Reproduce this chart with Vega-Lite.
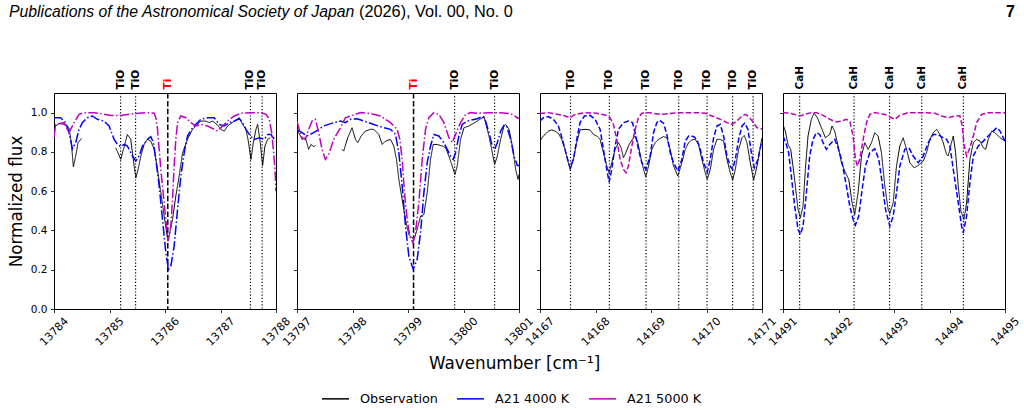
{
  "$schema": "https://vega.github.io/schema/vega-lite/v6.json",
  "background": "white",
  "padding": {"left": 7, "top": 4, "right": 2, "bottom": 2},
  "config": {
    "font": "DejaVu Sans",
    "view": {"stroke": "#000000", "strokeWidth": 1},
    "axis": {
      "grid": false, "domain": false,
      "tickColor": "#000000", "tickSize": 3.5, "tickWidth": 0.8,
      "labelColor": "#000000", "labelFontSize": 10.5,
      "titleColor": "#000000", "titleFontWeight": "normal"
    },
    "legend": {
      "labelFontSize": 12.8, "labelColor": "#000000", "symbolType": "stroke",
      "symbolSize": 729, "symbolStrokeWidth": 1.5, "labelOffset": 10, "columnPadding": 16
    }
  },
  "datasets": {
    "header": [
      {"part": "journal", "label": "Publications of the Astronomical Society of Japan"},
      {"part": "issue", "label": "(2026), Vol. 00, No. 0"},
      {"part": "page", "label": "7"}
    ],
    "features": [
      {"panel": 1, "species": "TiO", "wn": 13785.20},
      {"panel": 1, "species": "TiO", "wn": 13785.47},
      {"panel": 1, "species": "Ti", "wn": 13786.05},
      {"panel": 1, "species": "TiO", "wn": 13787.54},
      {"panel": 1, "species": "TiO", "wn": 13787.75},
      {"panel": 2, "species": "Ti", "wn": 13799.10},
      {"panel": 2, "species": "TiO", "wn": 13799.84},
      {"panel": 2, "species": "TiO", "wn": 13800.56},
      {"panel": 3, "species": "TiO", "wn": 14167.55},
      {"panel": 3, "species": "TiO", "wn": 14168.25},
      {"panel": 3, "species": "TiO", "wn": 14168.91},
      {"panel": 3, "species": "TiO", "wn": 14169.50},
      {"panel": 3, "species": "TiO", "wn": 14170.01},
      {"panel": 3, "species": "TiO", "wn": 14170.47},
      {"panel": 3, "species": "TiO", "wn": 14170.84},
      {"panel": 4, "species": "CaH", "wn": 14491.30},
      {"panel": 4, "species": "CaH", "wn": 14492.28},
      {"panel": 4, "species": "CaH", "wn": 14492.92},
      {"panel": 4, "species": "CaH", "wn": 14493.50},
      {"panel": 4, "species": "CaH", "wn": 14494.25}
    ],
    "spectra": [
      {"panel":1,"series":"Observation","wn":13784.00,"flux":0.910},
      {"panel":1,"series":"Observation","wn":13784.03,"flux":0.932},
      {"panel":1,"series":"Observation","wn":13784.09,"flux":0.944},
      {"panel":1,"series":"Observation","wn":13784.21,"flux":0.940},
      {"panel":1,"series":"Observation","wn":13784.27,"flux":0.923},
      {"panel":1,"series":"Observation","wn":13784.313,"flux":0.847},
      {"panel":1,"series":"Observation","wn":13784.349,"flux":0.724},
      {"panel":1,"series":"Observation","wn":13784.391,"flux":0.779},
      {"panel":1,"series":"Observation","wn":13784.433,"flux":0.847},
      {"panel":1,"series":"Observation","wn":13784.481,"flux":0.864},
      {"panel":1,"series":"Observation","wn":13784.50,"flux":0.867},
      {"panel":1,"series":"Observation","wn":13784.80,"flux":null},
      {"panel":1,"series":"Observation","wn":13785.113,"flux":0.821},
      {"panel":1,"series":"Observation","wn":13785.203,"flux":0.762},
      {"panel":1,"series":"Observation","wn":13785.275,"flux":0.838},
      {"panel":1,"series":"Observation","wn":13785.323,"flux":0.889},
      {"panel":1,"series":"Observation","wn":13785.383,"flux":0.864},
      {"panel":1,"series":"Observation","wn":13785.444,"flux":0.728},
      {"panel":1,"series":"Observation","wn":13785.474,"flux":0.668},
      {"panel":1,"series":"Observation","wn":13785.516,"flux":0.711},
      {"panel":1,"series":"Observation","wn":13785.564,"flux":0.779},
      {"panel":1,"series":"Observation","wn":13785.624,"flux":0.838},
      {"panel":1,"series":"Observation","wn":13785.684,"flux":0.864},
      {"panel":1,"series":"Observation","wn":13785.744,"flux":0.855},
      {"panel":1,"series":"Observation","wn":13785.805,"flux":0.813},
      {"panel":1,"series":"Observation","wn":13785.865,"flux":0.711},
      {"panel":1,"series":"Observation","wn":13785.925,"flux":0.592},
      {"panel":1,"series":"Observation","wn":13785.985,"flux":0.473},
      {"panel":1,"series":"Observation","wn":13786.045,"flux":0.362},
      {"panel":1,"series":"Observation","wn":13786.075,"flux":0.371},
      {"panel":1,"series":"Observation","wn":13786.135,"flux":0.456},
      {"panel":1,"series":"Observation","wn":13786.195,"flux":0.575},
      {"panel":1,"series":"Observation","wn":13786.256,"flux":0.677},
      {"panel":1,"series":"Observation","wn":13786.316,"flux":0.796},
      {"panel":1,"series":"Observation","wn":13786.406,"flux":0.864},
      {"panel":1,"series":"Observation","wn":13786.496,"flux":0.915},
      {"panel":1,"series":"Observation","wn":13786.646,"flux":0.957},
      {"panel":1,"series":"Observation","wn":13786.737,"flux":0.957},
      {"panel":1,"series":"Observation","wn":13786.797,"flux":0.949},
      {"panel":1,"series":"Observation","wn":13786.857,"flux":0.957},
      {"panel":1,"series":"Observation","wn":13786.935,"flux":0.940},
      {"panel":1,"series":"Observation","wn":13787.008,"flux":0.915},
      {"panel":1,"series":"Observation","wn":13787.068,"flux":0.906},
      {"panel":1,"series":"Observation","wn":13787.128,"flux":0.932},
      {"panel":1,"series":"Observation","wn":13787.248,"flux":0.957},
      {"panel":1,"series":"Observation","wn":13787.338,"flux":0.974},
      {"panel":1,"series":"Observation","wn":13787.398,"flux":0.940},
      {"panel":1,"series":"Observation","wn":13787.459,"flux":0.915},
      {"panel":1,"series":"Observation","wn":13787.501,"flux":0.855},
      {"panel":1,"series":"Observation","wn":13787.549,"flux":0.762},
      {"panel":1,"series":"Observation","wn":13787.591,"flux":0.847},
      {"panel":1,"series":"Observation","wn":13787.639,"flux":0.915},
      {"panel":1,"series":"Observation","wn":13787.669,"flux":0.940},
      {"panel":1,"series":"Observation","wn":13787.717,"flux":0.847},
      {"panel":1,"series":"Observation","wn":13787.759,"flux":0.731},
      {"panel":1,"series":"Observation","wn":13787.801,"flux":0.830},
      {"panel":1,"series":"Observation","wn":13787.849,"flux":0.864},
      {"panel":1,"series":"Observation","wn":13787.898,"flux":0.872},

      {"panel":1,"series":"A21 4000 K","wn":13784.00,"flux":0.974},
      {"panel":1,"series":"A21 4000 K","wn":13784.12,"flux":0.974},
      {"panel":1,"series":"A21 4000 K","wn":13784.21,"flux":0.949},
      {"panel":1,"series":"A21 4000 K","wn":13784.27,"flux":0.898},
      {"panel":1,"series":"A21 4000 K","wn":13784.331,"flux":0.816},
      {"panel":1,"series":"A21 4000 K","wn":13784.391,"flux":0.847},
      {"panel":1,"series":"A21 4000 K","wn":13784.451,"flux":0.915},
      {"panel":1,"series":"A21 4000 K","wn":13784.511,"flux":0.949},
      {"panel":1,"series":"A21 4000 K","wn":13784.601,"flux":0.974},
      {"panel":1,"series":"A21 4000 K","wn":13784.691,"flux":0.983},
      {"panel":1,"series":"A21 4000 K","wn":13784.782,"flux":0.966},
      {"panel":1,"series":"A21 4000 K","wn":13784.902,"flux":0.957},
      {"panel":1,"series":"A21 4000 K","wn":13784.992,"flux":0.932},
      {"panel":1,"series":"A21 4000 K","wn":13785.083,"flux":0.864},
      {"panel":1,"series":"A21 4000 K","wn":13785.143,"flux":0.838},
      {"panel":1,"series":"A21 4000 K","wn":13785.203,"flux":0.827},
      {"panel":1,"series":"A21 4000 K","wn":13785.263,"flux":0.838},
      {"panel":1,"series":"A21 4000 K","wn":13785.323,"flux":0.830},
      {"panel":1,"series":"A21 4000 K","wn":13785.413,"flux":0.779},
      {"panel":1,"series":"A21 4000 K","wn":13785.474,"flux":0.753},
      {"panel":1,"series":"A21 4000 K","wn":13785.534,"flux":0.779},
      {"panel":1,"series":"A21 4000 K","wn":13785.594,"flux":0.830},
      {"panel":1,"series":"A21 4000 K","wn":13785.684,"flux":0.864},
      {"panel":1,"series":"A21 4000 K","wn":13785.744,"flux":0.878},
      {"panel":1,"series":"A21 4000 K","wn":13785.792,"flux":0.847},
      {"panel":1,"series":"A21 4000 K","wn":13785.835,"flux":0.762},
      {"panel":1,"series":"A21 4000 K","wn":13785.895,"flux":0.626},
      {"panel":1,"series":"A21 4000 K","wn":13785.955,"flux":0.456},
      {"panel":1,"series":"A21 4000 K","wn":13786.015,"flux":0.286},
      {"panel":1,"series":"A21 4000 K","wn":13786.063,"flux":0.201},
      {"panel":1,"series":"A21 4000 K","wn":13786.105,"flux":0.218},
      {"panel":1,"series":"A21 4000 K","wn":13786.165,"flux":0.320},
      {"panel":1,"series":"A21 4000 K","wn":13786.226,"flux":0.507},
      {"panel":1,"series":"A21 4000 K","wn":13786.286,"flux":0.677},
      {"panel":1,"series":"A21 4000 K","wn":13786.346,"flux":0.796},
      {"panel":1,"series":"A21 4000 K","wn":13786.406,"flux":0.881},
      {"panel":1,"series":"A21 4000 K","wn":13786.496,"flux":0.923},
      {"panel":1,"series":"A21 4000 K","wn":13786.646,"flux":0.966},
      {"panel":1,"series":"A21 4000 K","wn":13786.767,"flux":0.974},
      {"panel":1,"series":"A21 4000 K","wn":13786.887,"flux":0.974},
      {"panel":1,"series":"A21 4000 K","wn":13786.977,"flux":0.940},
      {"panel":1,"series":"A21 4000 K","wn":13787.068,"flux":0.932},
      {"panel":1,"series":"A21 4000 K","wn":13787.158,"flux":0.949},
      {"panel":1,"series":"A21 4000 K","wn":13787.248,"flux":0.957},
      {"panel":1,"series":"A21 4000 K","wn":13787.338,"flux":0.969},
      {"panel":1,"series":"A21 4000 K","wn":13787.398,"flux":0.949},
      {"panel":1,"series":"A21 4000 K","wn":13787.459,"flux":0.915},
      {"panel":1,"series":"A21 4000 K","wn":13787.537,"flux":0.881},
      {"panel":1,"series":"A21 4000 K","wn":13787.609,"flux":0.864},
      {"panel":1,"series":"A21 4000 K","wn":13787.699,"flux":0.872},
      {"panel":1,"series":"A21 4000 K","wn":13787.789,"flux":0.864},
      {"panel":1,"series":"A21 4000 K","wn":13787.849,"flux":0.889},
      {"panel":1,"series":"A21 4000 K","wn":13787.910,"flux":0.889},
      {"panel":1,"series":"A21 4000 K","wn":13787.970,"flux":0.864},
      {"panel":1,"series":"A21 4000 K","wn":13788.00,"flux":0.855},

      {"panel":1,"series":"A21 5000 K","wn":13784.00,"flux":0.872},
      {"panel":1,"series":"A21 5000 K","wn":13784.03,"flux":0.940},
      {"panel":1,"series":"A21 5000 K","wn":13784.09,"flux":0.944},
      {"panel":1,"series":"A21 5000 K","wn":13784.18,"flux":0.949},
      {"panel":1,"series":"A21 5000 K","wn":13784.27,"flux":0.898},
      {"panel":1,"series":"A21 5000 K","wn":13784.361,"flux":0.949},
      {"panel":1,"series":"A21 5000 K","wn":13784.451,"flux":0.991},
      {"panel":1,"series":"A21 5000 K","wn":13784.541,"flux":1.000},
      {"panel":1,"series":"A21 5000 K","wn":13784.722,"flux":1.000},
      {"panel":1,"series":"A21 5000 K","wn":13784.842,"flux":0.995},
      {"panel":1,"series":"A21 5000 K","wn":13785.022,"flux":0.986},
      {"panel":1,"series":"A21 5000 K","wn":13785.203,"flux":0.986},
      {"panel":1,"series":"A21 5000 K","wn":13785.444,"flux":0.995},
      {"panel":1,"series":"A21 5000 K","wn":13785.684,"flux":1.000},
      {"panel":1,"series":"A21 5000 K","wn":13785.805,"flux":0.997},
      {"panel":1,"series":"A21 5000 K","wn":13785.835,"flux":0.974},
      {"panel":1,"series":"A21 5000 K","wn":13785.865,"flux":0.915},
      {"panel":1,"series":"A21 5000 K","wn":13785.895,"flux":0.813},
      {"panel":1,"series":"A21 5000 K","wn":13785.925,"flux":0.711},
      {"panel":1,"series":"A21 5000 K","wn":13785.966,"flux":0.592},
      {"panel":1,"series":"A21 5000 K","wn":13786.015,"flux":0.456},
      {"panel":1,"series":"A21 5000 K","wn":13786.056,"flux":0.345},
      {"panel":1,"series":"A21 5000 K","wn":13786.105,"flux":0.422},
      {"panel":1,"series":"A21 5000 K","wn":13786.135,"flux":0.558},
      {"panel":1,"series":"A21 5000 K","wn":13786.165,"flux":0.728},
      {"panel":1,"series":"A21 5000 K","wn":13786.195,"flux":0.864},
      {"panel":1,"series":"A21 5000 K","wn":13786.226,"flux":0.949},
      {"panel":1,"series":"A21 5000 K","wn":13786.286,"flux":0.983},
      {"panel":1,"series":"A21 5000 K","wn":13786.376,"flux":0.974},
      {"panel":1,"series":"A21 5000 K","wn":13786.466,"flux":0.949},
      {"panel":1,"series":"A21 5000 K","wn":13786.556,"flux":0.932},
      {"panel":1,"series":"A21 5000 K","wn":13786.646,"flux":0.940},
      {"panel":1,"series":"A21 5000 K","wn":13786.767,"flux":0.932},
      {"panel":1,"series":"A21 5000 K","wn":13786.887,"flux":0.915},
      {"panel":1,"series":"A21 5000 K","wn":13786.947,"flux":0.906},
      {"panel":1,"series":"A21 5000 K","wn":13787.038,"flux":0.932},
      {"panel":1,"series":"A21 5000 K","wn":13787.128,"flux":0.957},
      {"panel":1,"series":"A21 5000 K","wn":13787.248,"flux":0.983},
      {"panel":1,"series":"A21 5000 K","wn":13787.368,"flux":0.997},
      {"panel":1,"series":"A21 5000 K","wn":13787.549,"flux":1.000},
      {"panel":1,"series":"A21 5000 K","wn":13787.729,"flux":1.000},
      {"panel":1,"series":"A21 5000 K","wn":13787.820,"flux":0.991},
      {"panel":1,"series":"A21 5000 K","wn":13787.880,"flux":0.966},
      {"panel":1,"series":"A21 5000 K","wn":13787.922,"flux":0.898},
      {"panel":1,"series":"A21 5000 K","wn":13787.958,"flux":0.796},
      {"panel":1,"series":"A21 5000 K","wn":13787.982,"flux":0.711},
      {"panel":1,"series":"A21 5000 K","wn":13788.00,"flux":0.600},

      {"panel":2,"series":"Observation","wn":13797.00,"flux":0.915},
      {"panel":2,"series":"Observation","wn":13797.048,"flux":0.889},
      {"panel":2,"series":"Observation","wn":13797.090,"flux":0.864},
      {"panel":2,"series":"Observation","wn":13797.150,"flux":0.872},
      {"panel":2,"series":"Observation","wn":13797.211,"flux":0.813},
      {"panel":2,"series":"Observation","wn":13797.253,"flux":0.838},
      {"panel":2,"series":"Observation","wn":13797.301,"flux":0.827},
      {"panel":2,"series":"Observation","wn":13797.331,"flux":0.833},
      {"panel":2,"series":"Observation","wn":13797.55,"flux":null},
      {"panel":2,"series":"Observation","wn":13797.812,"flux":0.813},
      {"panel":2,"series":"Observation","wn":13797.842,"flux":0.804},
      {"panel":2,"series":"Observation","wn":13797.914,"flux":0.872},
      {"panel":2,"series":"Observation","wn":13797.992,"flux":0.923},
      {"panel":2,"series":"Observation","wn":13798.053,"flux":0.864},
      {"panel":2,"series":"Observation","wn":13798.095,"flux":0.847},
      {"panel":2,"series":"Observation","wn":13798.155,"flux":0.881},
      {"panel":2,"series":"Observation","wn":13798.233,"flux":0.906},
      {"panel":2,"series":"Observation","wn":13798.323,"flux":0.915},
      {"panel":2,"series":"Observation","wn":13798.383,"flux":0.915},
      {"panel":2,"series":"Observation","wn":13798.474,"flux":0.889},
      {"panel":2,"series":"Observation","wn":13798.534,"flux":0.838},
      {"panel":2,"series":"Observation","wn":13798.594,"flux":0.855},
      {"panel":2,"series":"Observation","wn":13798.684,"flux":0.864},
      {"panel":2,"series":"Observation","wn":13798.744,"flux":0.830},
      {"panel":2,"series":"Observation","wn":13798.792,"flux":0.762},
      {"panel":2,"series":"Observation","wn":13798.835,"flux":0.660},
      {"panel":2,"series":"Observation","wn":13798.895,"flux":0.558},
      {"panel":2,"series":"Observation","wn":13798.955,"flux":0.456},
      {"panel":2,"series":"Observation","wn":13799.015,"flux":0.379},
      {"panel":2,"series":"Observation","wn":13799.075,"flux":0.362},
      {"panel":2,"series":"Observation","wn":13799.117,"flux":0.362},
      {"panel":2,"series":"Observation","wn":13799.165,"flux":0.405},
      {"panel":2,"series":"Observation","wn":13799.226,"flux":0.473},
      {"panel":2,"series":"Observation","wn":13799.286,"flux":0.481},
      {"panel":2,"series":"Observation","wn":13799.346,"flux":0.592},
      {"panel":2,"series":"Observation","wn":13799.406,"flux":0.762},
      {"panel":2,"series":"Observation","wn":13799.454,"flux":0.838},
      {"panel":2,"series":"Observation","wn":13799.526,"flux":0.838},
      {"panel":2,"series":"Observation","wn":13799.617,"flux":0.830},
      {"panel":2,"series":"Observation","wn":13799.677,"flux":0.821},
      {"panel":2,"series":"Observation","wn":13799.737,"flux":0.779},
      {"panel":2,"series":"Observation","wn":13799.797,"flux":0.728},
      {"panel":2,"series":"Observation","wn":13799.845,"flux":0.685},
      {"panel":2,"series":"Observation","wn":13799.887,"flux":0.728},
      {"panel":2,"series":"Observation","wn":13799.947,"flux":0.864},
      {"panel":2,"series":"Observation","wn":13800.008,"flux":0.923},
      {"panel":2,"series":"Observation","wn":13800.098,"flux":0.932},
      {"panel":2,"series":"Observation","wn":13800.248,"flux":0.957},
      {"panel":2,"series":"Observation","wn":13800.338,"flux":0.974},
      {"panel":2,"series":"Observation","wn":13800.368,"flux":0.983},
      {"panel":2,"series":"Observation","wn":13800.398,"flux":0.949},
      {"panel":2,"series":"Observation","wn":13800.459,"flux":0.881},
      {"panel":2,"series":"Observation","wn":13800.519,"flux":0.796},
      {"panel":2,"series":"Observation","wn":13800.561,"flux":0.736},
      {"panel":2,"series":"Observation","wn":13800.609,"flux":0.779},
      {"panel":2,"series":"Observation","wn":13800.669,"flux":0.864},
      {"panel":2,"series":"Observation","wn":13800.729,"flux":0.932},
      {"panel":2,"series":"Observation","wn":13800.759,"flux":0.940},
      {"panel":2,"series":"Observation","wn":13800.820,"flux":0.915},
      {"panel":2,"series":"Observation","wn":13800.880,"flux":0.830},
      {"panel":2,"series":"Observation","wn":13800.940,"flux":0.711},
      {"panel":2,"series":"Observation","wn":13800.982,"flux":0.660},
      {"panel":2,"series":"Observation","wn":13801.00,"flux":0.685},

      {"panel":2,"series":"A21 4000 K","wn":13797.00,"flux":0.915},
      {"panel":2,"series":"A21 4000 K","wn":13797.090,"flux":0.898},
      {"panel":2,"series":"A21 4000 K","wn":13797.180,"flux":0.881},
      {"panel":2,"series":"A21 4000 K","wn":13797.301,"flux":0.898},
      {"panel":2,"series":"A21 4000 K","wn":13797.481,"flux":0.932},
      {"panel":2,"series":"A21 4000 K","wn":13797.662,"flux":0.949},
      {"panel":2,"series":"A21 4000 K","wn":13797.782,"flux":0.957},
      {"panel":2,"series":"A21 4000 K","wn":13797.872,"flux":0.949},
      {"panel":2,"series":"A21 4000 K","wn":13797.962,"flux":0.966},
      {"panel":2,"series":"A21 4000 K","wn":13798.083,"flux":0.969},
      {"panel":2,"series":"A21 4000 K","wn":13798.203,"flux":0.957},
      {"panel":2,"series":"A21 4000 K","wn":13798.383,"flux":0.940},
      {"panel":2,"series":"A21 4000 K","wn":13798.564,"flux":0.923},
      {"panel":2,"series":"A21 4000 K","wn":13798.684,"flux":0.915},
      {"panel":2,"series":"A21 4000 K","wn":13798.774,"flux":0.889},
      {"panel":2,"series":"A21 4000 K","wn":13798.835,"flux":0.796},
      {"panel":2,"series":"A21 4000 K","wn":13798.895,"flux":0.626},
      {"panel":2,"series":"A21 4000 K","wn":13798.955,"flux":0.422},
      {"panel":2,"series":"A21 4000 K","wn":13799.015,"flux":0.269},
      {"panel":2,"series":"A21 4000 K","wn":13799.093,"flux":0.204},
      {"panel":2,"series":"A21 4000 K","wn":13799.165,"flux":0.252},
      {"panel":2,"series":"A21 4000 K","wn":13799.226,"flux":0.388},
      {"panel":2,"series":"A21 4000 K","wn":13799.286,"flux":0.592},
      {"panel":2,"series":"A21 4000 K","wn":13799.346,"flux":0.745},
      {"panel":2,"series":"A21 4000 K","wn":13799.406,"flux":0.830},
      {"panel":2,"series":"A21 4000 K","wn":13799.466,"flux":0.889},
      {"panel":2,"series":"A21 4000 K","wn":13799.556,"flux":0.881},
      {"panel":2,"series":"A21 4000 K","wn":13799.647,"flux":0.847},
      {"panel":2,"series":"A21 4000 K","wn":13799.707,"flux":0.813},
      {"panel":2,"series":"A21 4000 K","wn":13799.767,"flux":0.779},
      {"panel":2,"series":"A21 4000 K","wn":13799.815,"flux":0.762},
      {"panel":2,"series":"A21 4000 K","wn":13799.857,"flux":0.796},
      {"panel":2,"series":"A21 4000 K","wn":13799.917,"flux":0.881},
      {"panel":2,"series":"A21 4000 K","wn":13799.977,"flux":0.940},
      {"panel":2,"series":"A21 4000 K","wn":13800.068,"flux":0.957},
      {"panel":2,"series":"A21 4000 K","wn":13800.248,"flux":0.969},
      {"panel":2,"series":"A21 4000 K","wn":13800.338,"flux":0.980},
      {"panel":2,"series":"A21 4000 K","wn":13800.398,"flux":0.957},
      {"panel":2,"series":"A21 4000 K","wn":13800.459,"flux":0.898},
      {"panel":2,"series":"A21 4000 K","wn":13800.519,"flux":0.830},
      {"panel":2,"series":"A21 4000 K","wn":13800.561,"flux":0.813},
      {"panel":2,"series":"A21 4000 K","wn":13800.609,"flux":0.847},
      {"panel":2,"series":"A21 4000 K","wn":13800.669,"flux":0.906},
      {"panel":2,"series":"A21 4000 K","wn":13800.729,"flux":0.935},
      {"panel":2,"series":"A21 4000 K","wn":13800.777,"flux":0.932},
      {"panel":2,"series":"A21 4000 K","wn":13800.850,"flux":0.864},
      {"panel":2,"series":"A21 4000 K","wn":13800.910,"flux":0.779},
      {"panel":2,"series":"A21 4000 K","wn":13800.970,"flux":0.731},
      {"panel":2,"series":"A21 4000 K","wn":13801.00,"flux":0.731},

      {"panel":2,"series":"A21 5000 K","wn":13797.00,"flux":0.957},
      {"panel":2,"series":"A21 5000 K","wn":13797.048,"flux":0.906},
      {"panel":2,"series":"A21 5000 K","wn":13797.090,"flux":0.872},
      {"panel":2,"series":"A21 5000 K","wn":13797.150,"flux":0.864},
      {"panel":2,"series":"A21 5000 K","wn":13797.211,"flux":0.915},
      {"panel":2,"series":"A21 5000 K","wn":13797.271,"flux":0.957},
      {"panel":2,"series":"A21 5000 K","wn":13797.331,"flux":0.966},
      {"panel":2,"series":"A21 5000 K","wn":13797.391,"flux":0.898},
      {"panel":2,"series":"A21 5000 K","wn":13797.451,"flux":0.813},
      {"panel":2,"series":"A21 5000 K","wn":13797.511,"flux":0.762},
      {"panel":2,"series":"A21 5000 K","wn":13797.571,"flux":0.787},
      {"panel":2,"series":"A21 5000 K","wn":13797.662,"flux":0.864},
      {"panel":2,"series":"A21 5000 K","wn":13797.782,"flux":0.923},
      {"panel":2,"series":"A21 5000 K","wn":13797.872,"flux":0.974},
      {"panel":2,"series":"A21 5000 K","wn":13797.962,"flux":0.983},
      {"panel":2,"series":"A21 5000 K","wn":13798.143,"flux":1.000},
      {"panel":2,"series":"A21 5000 K","wn":13798.323,"flux":0.995},
      {"panel":2,"series":"A21 5000 K","wn":13798.504,"flux":0.983},
      {"panel":2,"series":"A21 5000 K","wn":13798.684,"flux":0.949},
      {"panel":2,"series":"A21 5000 K","wn":13798.805,"flux":0.915},
      {"panel":2,"series":"A21 5000 K","wn":13798.853,"flux":0.864},
      {"panel":2,"series":"A21 5000 K","wn":13798.895,"flux":0.762},
      {"panel":2,"series":"A21 5000 K","wn":13798.937,"flux":0.592},
      {"panel":2,"series":"A21 5000 K","wn":13798.985,"flux":0.456},
      {"panel":2,"series":"A21 5000 K","wn":13799.033,"flux":0.371},
      {"panel":2,"series":"A21 5000 K","wn":13799.087,"flux":0.337},
      {"panel":2,"series":"A21 5000 K","wn":13799.135,"flux":0.388},
      {"panel":2,"series":"A21 5000 K","wn":13799.195,"flux":0.541},
      {"panel":2,"series":"A21 5000 K","wn":13799.256,"flux":0.762},
      {"panel":2,"series":"A21 5000 K","wn":13799.316,"flux":0.915},
      {"panel":2,"series":"A21 5000 K","wn":13799.376,"flux":0.974},
      {"panel":2,"series":"A21 5000 K","wn":13799.466,"flux":1.000},
      {"panel":2,"series":"A21 5000 K","wn":13799.556,"flux":0.991},
      {"panel":2,"series":"A21 5000 K","wn":13799.647,"flux":0.949},
      {"panel":2,"series":"A21 5000 K","wn":13799.737,"flux":0.872},
      {"panel":2,"series":"A21 5000 K","wn":13799.797,"flux":0.847},
      {"panel":2,"series":"A21 5000 K","wn":13799.857,"flux":0.889},
      {"panel":2,"series":"A21 5000 K","wn":13799.947,"flux":0.949},
      {"panel":2,"series":"A21 5000 K","wn":13800.038,"flux":0.991},
      {"panel":2,"series":"A21 5000 K","wn":13800.128,"flux":1.000},
      {"panel":2,"series":"A21 5000 K","wn":13800.248,"flux":0.997},
      {"panel":2,"series":"A21 5000 K","wn":13800.489,"flux":1.000},
      {"panel":2,"series":"A21 5000 K","wn":13800.669,"flux":1.000},
      {"panel":2,"series":"A21 5000 K","wn":13800.850,"flux":0.995},
      {"panel":2,"series":"A21 5000 K","wn":13800.970,"flux":0.974},
      {"panel":2,"series":"A21 5000 K","wn":13801.00,"flux":0.969},

      {"panel":3,"series":"Observation","wn":14167.00,"flux":0.855},
      {"panel":3,"series":"Observation","wn":14167.060,"flux":0.881},
      {"panel":3,"series":"Observation","wn":14167.150,"flux":0.906},
      {"panel":3,"series":"Observation","wn":14167.211,"flux":0.912},
      {"panel":3,"series":"Observation","wn":14167.271,"flux":0.906},
      {"panel":3,"series":"Observation","wn":14167.331,"flux":0.895},
      {"panel":3,"series":"Observation","wn":14167.391,"flux":0.864},
      {"panel":3,"series":"Observation","wn":14167.451,"flux":0.813},
      {"panel":3,"series":"Observation","wn":14167.511,"flux":0.745},
      {"panel":3,"series":"Observation","wn":14167.547,"flux":0.711},
      {"panel":3,"series":"Observation","wn":14167.602,"flux":0.762},
      {"panel":3,"series":"Observation","wn":14167.662,"flux":0.847},
      {"panel":3,"series":"Observation","wn":14167.722,"flux":0.912},
      {"panel":3,"series":"Observation","wn":14167.812,"flux":0.915},
      {"panel":3,"series":"Observation","wn":14167.902,"flux":0.912},
      {"panel":3,"series":"Observation","wn":14167.962,"flux":0.889},
      {"panel":3,"series":"Observation","wn":14168.023,"flux":0.881},
      {"panel":3,"series":"Observation","wn":14168.083,"flux":0.864},
      {"panel":3,"series":"Observation","wn":14168.143,"flux":0.796},
      {"panel":3,"series":"Observation","wn":14168.203,"flux":0.728},
      {"panel":3,"series":"Observation","wn":14168.245,"flux":0.694},
      {"panel":3,"series":"Observation","wn":14168.293,"flux":0.745},
      {"panel":3,"series":"Observation","wn":14168.353,"flux":0.813},
      {"panel":3,"series":"Observation","wn":14168.414,"flux":0.847},
      {"panel":3,"series":"Observation","wn":14168.462,"flux":0.821},
      {"panel":3,"series":"Observation","wn":14168.504,"flux":0.770},
      {"panel":3,"series":"Observation","wn":14168.546,"flux":0.796},
      {"panel":3,"series":"Observation","wn":14168.606,"flux":0.838},
      {"panel":3,"series":"Observation","wn":14168.684,"flux":0.872},
      {"panel":3,"series":"Observation","wn":14168.714,"flux":0.881},
      {"panel":3,"series":"Observation","wn":14168.762,"flux":0.847},
      {"panel":3,"series":"Observation","wn":14168.823,"flux":0.762},
      {"panel":3,"series":"Observation","wn":14168.865,"flux":0.711},
      {"panel":3,"series":"Observation","wn":14168.907,"flux":0.673},
      {"panel":3,"series":"Observation","wn":14168.955,"flux":0.728},
      {"panel":3,"series":"Observation","wn":14169.015,"flux":0.813},
      {"panel":3,"series":"Observation","wn":14169.075,"flux":0.847},
      {"panel":3,"series":"Observation","wn":14169.135,"flux":0.864},
      {"panel":3,"series":"Observation","wn":14169.226,"flux":0.878},
      {"panel":3,"series":"Observation","wn":14169.286,"flux":0.872},
      {"panel":3,"series":"Observation","wn":14169.346,"flux":0.813},
      {"panel":3,"series":"Observation","wn":14169.406,"flux":0.728},
      {"panel":3,"series":"Observation","wn":14169.484,"flux":0.677},
      {"panel":3,"series":"Observation","wn":14169.556,"flux":0.745},
      {"panel":3,"series":"Observation","wn":14169.617,"flux":0.813},
      {"panel":3,"series":"Observation","wn":14169.677,"flux":0.847},
      {"panel":3,"series":"Observation","wn":14169.737,"flux":0.861},
      {"panel":3,"series":"Observation","wn":14169.797,"flux":0.864},
      {"panel":3,"series":"Observation","wn":14169.857,"flux":0.838},
      {"panel":3,"series":"Observation","wn":14169.917,"flux":0.762},
      {"panel":3,"series":"Observation","wn":14169.977,"flux":0.694},
      {"panel":3,"series":"Observation","wn":14170.014,"flux":0.660},
      {"panel":3,"series":"Observation","wn":14170.068,"flux":0.711},
      {"panel":3,"series":"Observation","wn":14170.128,"flux":0.813},
      {"panel":3,"series":"Observation","wn":14170.188,"flux":0.864},
      {"panel":3,"series":"Observation","wn":14170.248,"flux":0.864},
      {"panel":3,"series":"Observation","wn":14170.308,"flux":0.855},
      {"panel":3,"series":"Observation","wn":14170.368,"flux":0.762},
      {"panel":3,"series":"Observation","wn":14170.429,"flux":0.694},
      {"panel":3,"series":"Observation","wn":14170.471,"flux":0.656},
      {"panel":3,"series":"Observation","wn":14170.519,"flux":0.711},
      {"panel":3,"series":"Observation","wn":14170.579,"flux":0.813},
      {"panel":3,"series":"Observation","wn":14170.639,"flux":0.872},
      {"panel":3,"series":"Observation","wn":14170.681,"flux":0.884},
      {"panel":3,"series":"Observation","wn":14170.729,"flux":0.847},
      {"panel":3,"series":"Observation","wn":14170.789,"flux":0.745},
      {"panel":3,"series":"Observation","wn":14170.850,"flux":0.656},
      {"panel":3,"series":"Observation","wn":14170.910,"flux":0.728},
      {"panel":3,"series":"Observation","wn":14170.952,"flux":0.796},
      {"panel":3,"series":"Observation","wn":14171.00,"flux":0.872},

      {"panel":3,"series":"A21 4000 K","wn":14167.00,"flux":0.957},
      {"panel":3,"series":"A21 4000 K","wn":14167.060,"flux":0.974},
      {"panel":3,"series":"A21 4000 K","wn":14167.150,"flux":0.980},
      {"panel":3,"series":"A21 4000 K","wn":14167.241,"flux":0.966},
      {"panel":3,"series":"A21 4000 K","wn":14167.331,"flux":0.932},
      {"panel":3,"series":"A21 4000 K","wn":14167.403,"flux":0.864},
      {"panel":3,"series":"A21 4000 K","wn":14167.481,"flux":0.779},
      {"panel":3,"series":"A21 4000 K","wn":14167.541,"flux":0.719},
      {"panel":3,"series":"A21 4000 K","wn":14167.602,"flux":0.762},
      {"panel":3,"series":"A21 4000 K","wn":14167.662,"flux":0.864},
      {"panel":3,"series":"A21 4000 K","wn":14167.722,"flux":0.949},
      {"panel":3,"series":"A21 4000 K","wn":14167.800,"flux":0.983},
      {"panel":3,"series":"A21 4000 K","wn":14167.902,"flux":0.986},
      {"panel":3,"series":"A21 4000 K","wn":14167.992,"flux":0.966},
      {"panel":3,"series":"A21 4000 K","wn":14168.083,"flux":0.915},
      {"panel":3,"series":"A21 4000 K","wn":14168.143,"flux":0.813},
      {"panel":3,"series":"A21 4000 K","wn":14168.203,"flux":0.711},
      {"panel":3,"series":"A21 4000 K","wn":14168.245,"flux":0.646},
      {"panel":3,"series":"A21 4000 K","wn":14168.293,"flux":0.711},
      {"panel":3,"series":"A21 4000 K","wn":14168.353,"flux":0.830},
      {"panel":3,"series":"A21 4000 K","wn":14168.414,"flux":0.915},
      {"panel":3,"series":"A21 4000 K","wn":14168.504,"flux":0.949},
      {"panel":3,"series":"A21 4000 K","wn":14168.594,"flux":0.957},
      {"panel":3,"series":"A21 4000 K","wn":14168.666,"flux":0.949},
      {"panel":3,"series":"A21 4000 K","wn":14168.714,"flux":0.898},
      {"panel":3,"series":"A21 4000 K","wn":14168.774,"flux":0.813},
      {"panel":3,"series":"A21 4000 K","wn":14168.835,"flux":0.745},
      {"panel":3,"series":"A21 4000 K","wn":14168.907,"flux":0.711},
      {"panel":3,"series":"A21 4000 K","wn":14168.985,"flux":0.779},
      {"panel":3,"series":"A21 4000 K","wn":14169.045,"flux":0.898},
      {"panel":3,"series":"A21 4000 K","wn":14169.105,"flux":0.949},
      {"panel":3,"series":"A21 4000 K","wn":14169.147,"flux":0.961},
      {"panel":3,"series":"A21 4000 K","wn":14169.226,"flux":0.946},
      {"panel":3,"series":"A21 4000 K","wn":14169.286,"flux":0.889},
      {"panel":3,"series":"A21 4000 K","wn":14169.346,"flux":0.796},
      {"panel":3,"series":"A21 4000 K","wn":14169.406,"flux":0.745},
      {"panel":3,"series":"A21 4000 K","wn":14169.484,"flux":0.702},
      {"panel":3,"series":"A21 4000 K","wn":14169.556,"flux":0.762},
      {"panel":3,"series":"A21 4000 K","wn":14169.617,"flux":0.855},
      {"panel":3,"series":"A21 4000 K","wn":14169.677,"flux":0.881},
      {"panel":3,"series":"A21 4000 K","wn":14169.767,"flux":0.878},
      {"panel":3,"series":"A21 4000 K","wn":14169.827,"flux":0.864},
      {"panel":3,"series":"A21 4000 K","wn":14169.887,"flux":0.813},
      {"panel":3,"series":"A21 4000 K","wn":14169.947,"flux":0.745},
      {"panel":3,"series":"A21 4000 K","wn":14170.014,"flux":0.697},
      {"panel":3,"series":"A21 4000 K","wn":14170.068,"flux":0.762},
      {"panel":3,"series":"A21 4000 K","wn":14170.128,"flux":0.872},
      {"panel":3,"series":"A21 4000 K","wn":14170.188,"flux":0.932},
      {"panel":3,"series":"A21 4000 K","wn":14170.248,"flux":0.940},
      {"panel":3,"series":"A21 4000 K","wn":14170.308,"flux":0.881},
      {"panel":3,"series":"A21 4000 K","wn":14170.368,"flux":0.779},
      {"panel":3,"series":"A21 4000 K","wn":14170.429,"flux":0.728},
      {"panel":3,"series":"A21 4000 K","wn":14170.471,"flux":0.711},
      {"panel":3,"series":"A21 4000 K","wn":14170.519,"flux":0.762},
      {"panel":3,"series":"A21 4000 K","wn":14170.579,"flux":0.864},
      {"panel":3,"series":"A21 4000 K","wn":14170.639,"flux":0.932},
      {"panel":3,"series":"A21 4000 K","wn":14170.687,"flux":0.946},
      {"panel":3,"series":"A21 4000 K","wn":14170.747,"flux":0.915},
      {"panel":3,"series":"A21 4000 K","wn":14170.808,"flux":0.796},
      {"panel":3,"series":"A21 4000 K","wn":14170.862,"flux":0.719},
      {"panel":3,"series":"A21 4000 K","wn":14170.928,"flux":0.762},
      {"panel":3,"series":"A21 4000 K","wn":14171.00,"flux":0.864},

      {"panel":3,"series":"A21 5000 K","wn":14167.00,"flux":0.995},
      {"panel":3,"series":"A21 5000 K","wn":14167.150,"flux":1.000},
      {"panel":3,"series":"A21 5000 K","wn":14167.331,"flux":0.991},
      {"panel":3,"series":"A21 5000 K","wn":14167.451,"flux":0.983},
      {"panel":3,"series":"A21 5000 K","wn":14167.541,"flux":0.974},
      {"panel":3,"series":"A21 5000 K","wn":14167.632,"flux":0.991},
      {"panel":3,"series":"A21 5000 K","wn":14167.812,"flux":1.000},
      {"panel":3,"series":"A21 5000 K","wn":14168.023,"flux":0.997},
      {"panel":3,"series":"A21 5000 K","wn":14168.173,"flux":0.988},
      {"panel":3,"series":"A21 5000 K","wn":14168.263,"flux":0.974},
      {"panel":3,"series":"A21 5000 K","wn":14168.323,"flux":0.940},
      {"panel":3,"series":"A21 5000 K","wn":14168.383,"flux":0.864},
      {"panel":3,"series":"A21 5000 K","wn":14168.444,"flux":0.762},
      {"panel":3,"series":"A21 5000 K","wn":14168.504,"flux":0.711},
      {"panel":3,"series":"A21 5000 K","wn":14168.552,"flux":0.694},
      {"panel":3,"series":"A21 5000 K","wn":14168.594,"flux":0.728},
      {"panel":3,"series":"A21 5000 K","wn":14168.654,"flux":0.830},
      {"panel":3,"series":"A21 5000 K","wn":14168.714,"flux":0.915},
      {"panel":3,"series":"A21 5000 K","wn":14168.774,"flux":0.974},
      {"panel":3,"series":"A21 5000 K","wn":14168.835,"flux":0.997},
      {"panel":3,"series":"A21 5000 K","wn":14168.955,"flux":1.000},
      {"panel":3,"series":"A21 5000 K","wn":14169.195,"flux":0.991},
      {"panel":3,"series":"A21 5000 K","wn":14169.376,"flux":0.997},
      {"panel":3,"series":"A21 5000 K","wn":14169.556,"flux":1.000},
      {"panel":3,"series":"A21 5000 K","wn":14169.797,"flux":1.000},
      {"panel":3,"series":"A21 5000 K","wn":14169.977,"flux":0.997},
      {"panel":3,"series":"A21 5000 K","wn":14170.098,"flux":0.983},
      {"panel":3,"series":"A21 5000 K","wn":14170.248,"flux":0.966},
      {"panel":3,"series":"A21 5000 K","wn":14170.368,"flux":0.949},
      {"panel":3,"series":"A21 5000 K","wn":14170.459,"flux":0.940},
      {"panel":3,"series":"A21 5000 K","wn":14170.549,"flux":0.957},
      {"panel":3,"series":"A21 5000 K","wn":14170.639,"flux":0.983},
      {"panel":3,"series":"A21 5000 K","wn":14170.699,"flux":0.991},
      {"panel":3,"series":"A21 5000 K","wn":14170.759,"flux":0.980},
      {"panel":3,"series":"A21 5000 K","wn":14170.850,"flux":0.949},
      {"panel":3,"series":"A21 5000 K","wn":14170.910,"flux":0.923},
      {"panel":3,"series":"A21 5000 K","wn":14171.00,"flux":0.918},

      {"panel":4,"series":"Observation","wn":14491.00,"flux":0.940},
      {"panel":4,"series":"Observation","wn":14491.042,"flux":0.906},
      {"panel":4,"series":"Observation","wn":14491.090,"flux":0.838},
      {"panel":4,"series":"Observation","wn":14491.138,"flux":0.813},
      {"panel":4,"series":"Observation","wn":14491.180,"flux":0.728},
      {"panel":4,"series":"Observation","wn":14491.223,"flux":0.626},
      {"panel":4,"series":"Observation","wn":14491.271,"flux":0.507},
      {"panel":4,"series":"Observation","wn":14491.313,"flux":0.464},
      {"panel":4,"series":"Observation","wn":14491.361,"flux":0.524},
      {"panel":4,"series":"Observation","wn":14491.403,"flux":0.711},
      {"panel":4,"series":"Observation","wn":14491.451,"flux":0.881},
      {"panel":4,"series":"Observation","wn":14491.511,"flux":0.966},
      {"panel":4,"series":"Observation","wn":14491.559,"flux":0.997},
      {"panel":4,"series":"Observation","wn":14491.620,"flux":0.974},
      {"panel":4,"series":"Observation","wn":14491.692,"flux":0.923},
      {"panel":4,"series":"Observation","wn":14491.764,"flux":0.872},
      {"panel":4,"series":"Observation","wn":14491.842,"flux":0.889},
      {"panel":4,"series":"Observation","wn":14491.884,"flux":0.932},
      {"panel":4,"series":"Observation","wn":14491.932,"flux":0.906},
      {"panel":4,"series":"Observation","wn":14491.992,"flux":0.830},
      {"panel":4,"series":"Observation","wn":14492.053,"flux":0.745},
      {"panel":4,"series":"Observation","wn":14492.125,"flux":0.694},
      {"panel":4,"series":"Observation","wn":14492.185,"flux":0.660},
      {"panel":4,"series":"Observation","wn":14492.245,"flux":0.541},
      {"panel":4,"series":"Observation","wn":14492.293,"flux":0.481},
      {"panel":4,"series":"Observation","wn":14492.353,"flux":0.592},
      {"panel":4,"series":"Observation","wn":14492.414,"flux":0.779},
      {"panel":4,"series":"Observation","wn":14492.474,"flux":0.847},
      {"panel":4,"series":"Observation","wn":14492.534,"flux":0.813},
      {"panel":4,"series":"Observation","wn":14492.594,"flux":0.847},
      {"panel":4,"series":"Observation","wn":14492.654,"flux":0.898},
      {"panel":4,"series":"Observation","wn":14492.714,"flux":0.881},
      {"panel":4,"series":"Observation","wn":14492.774,"flux":0.796},
      {"panel":4,"series":"Observation","wn":14492.835,"flux":0.626},
      {"panel":4,"series":"Observation","wn":14492.895,"flux":0.507},
      {"panel":4,"series":"Observation","wn":14492.925,"flux":0.486},
      {"panel":4,"series":"Observation","wn":14492.985,"flux":0.541},
      {"panel":4,"series":"Observation","wn":14493.045,"flux":0.728},
      {"panel":4,"series":"Observation","wn":14493.105,"flux":0.830},
      {"panel":4,"series":"Observation","wn":14493.165,"flux":0.872},
      {"panel":4,"series":"Observation","wn":14493.226,"flux":0.813},
      {"panel":4,"series":"Observation","wn":14493.286,"flux":0.745},
      {"panel":4,"series":"Observation","wn":14493.364,"flux":0.719},
      {"panel":4,"series":"Observation","wn":14493.436,"flux":0.731},
      {"panel":4,"series":"Observation","wn":14493.526,"flux":0.753},
      {"panel":4,"series":"Observation","wn":14493.586,"flux":0.796},
      {"panel":4,"series":"Observation","wn":14493.647,"flux":0.864},
      {"panel":4,"series":"Observation","wn":14493.707,"flux":0.898},
      {"panel":4,"series":"Observation","wn":14493.767,"flux":0.915},
      {"panel":4,"series":"Observation","wn":14493.827,"flux":0.889},
      {"panel":4,"series":"Observation","wn":14493.887,"flux":0.847},
      {"panel":4,"series":"Observation","wn":14493.947,"flux":0.787},
      {"panel":4,"series":"Observation","wn":14493.977,"flux":0.779},
      {"panel":4,"series":"Observation","wn":14494.020,"flux":0.830},
      {"panel":4,"series":"Observation","wn":14494.068,"flux":0.881},
      {"panel":4,"series":"Observation","wn":14494.110,"flux":0.796},
      {"panel":4,"series":"Observation","wn":14494.158,"flux":0.626},
      {"panel":4,"series":"Observation","wn":14494.206,"flux":0.498},
      {"panel":4,"series":"Observation","wn":14494.260,"flux":0.456},
      {"panel":4,"series":"Observation","wn":14494.308,"flux":0.541},
      {"panel":4,"series":"Observation","wn":14494.368,"flux":0.762},
      {"panel":4,"series":"Observation","wn":14494.429,"flux":0.847},
      {"panel":4,"series":"Observation","wn":14494.489,"flux":0.864},
      {"panel":4,"series":"Observation","wn":14494.549,"flux":0.855},
      {"panel":4,"series":"Observation","wn":14494.609,"flux":0.821},
      {"panel":4,"series":"Observation","wn":14494.651,"flux":0.813},
      {"panel":4,"series":"Observation","wn":14494.699,"flux":0.864},
      {"panel":4,"series":"Observation","wn":14494.759,"flux":0.906},
      {"panel":4,"series":"Observation","wn":14494.820,"flux":0.898},
      {"panel":4,"series":"Observation","wn":14494.910,"flux":0.872},
      {"panel":4,"series":"Observation","wn":14495.00,"flux":0.855},

      {"panel":4,"series":"A21 4000 K","wn":14491.00,"flux":0.881},
      {"panel":4,"series":"A21 4000 K","wn":14491.060,"flux":0.838},
      {"panel":4,"series":"A21 4000 K","wn":14491.102,"flux":0.796},
      {"panel":4,"series":"A21 4000 K","wn":14491.150,"flux":0.677},
      {"panel":4,"series":"A21 4000 K","wn":14491.211,"flux":0.524},
      {"panel":4,"series":"A21 4000 K","wn":14491.271,"flux":0.405},
      {"panel":4,"series":"A21 4000 K","wn":14491.313,"flux":0.379},
      {"panel":4,"series":"A21 4000 K","wn":14491.361,"flux":0.422},
      {"panel":4,"series":"A21 4000 K","wn":14491.421,"flux":0.592},
      {"panel":4,"series":"A21 4000 K","wn":14491.481,"flux":0.779},
      {"panel":4,"series":"A21 4000 K","wn":14491.541,"flux":0.864},
      {"panel":4,"series":"A21 4000 K","wn":14491.602,"flux":0.898},
      {"panel":4,"series":"A21 4000 K","wn":14491.662,"flux":0.889},
      {"panel":4,"series":"A21 4000 K","wn":14491.722,"flux":0.847},
      {"panel":4,"series":"A21 4000 K","wn":14491.782,"flux":0.813},
      {"panel":4,"series":"A21 4000 K","wn":14491.842,"flux":0.838},
      {"panel":4,"series":"A21 4000 K","wn":14491.932,"flux":0.864},
      {"panel":4,"series":"A21 4000 K","wn":14491.992,"flux":0.821},
      {"panel":4,"series":"A21 4000 K","wn":14492.053,"flux":0.762},
      {"panel":4,"series":"A21 4000 K","wn":14492.143,"flux":0.626},
      {"panel":4,"series":"A21 4000 K","wn":14492.203,"flux":0.524},
      {"panel":4,"series":"A21 4000 K","wn":14492.263,"flux":0.456},
      {"panel":4,"series":"A21 4000 K","wn":14492.305,"flux":0.427},
      {"panel":4,"series":"A21 4000 K","wn":14492.365,"flux":0.473},
      {"panel":4,"series":"A21 4000 K","wn":14492.426,"flux":0.609},
      {"panel":4,"series":"A21 4000 K","wn":14492.486,"flux":0.728},
      {"panel":4,"series":"A21 4000 K","wn":14492.564,"flux":0.796},
      {"panel":4,"series":"A21 4000 K","wn":14492.654,"flux":0.816},
      {"panel":4,"series":"A21 4000 K","wn":14492.726,"flux":0.762},
      {"panel":4,"series":"A21 4000 K","wn":14492.786,"flux":0.643},
      {"panel":4,"series":"A21 4000 K","wn":14492.847,"flux":0.507},
      {"panel":4,"series":"A21 4000 K","wn":14492.925,"flux":0.422},
      {"panel":4,"series":"A21 4000 K","wn":14492.985,"flux":0.473},
      {"panel":4,"series":"A21 4000 K","wn":14493.045,"flux":0.592},
      {"panel":4,"series":"A21 4000 K","wn":14493.105,"flux":0.728},
      {"panel":4,"series":"A21 4000 K","wn":14493.195,"flux":0.813},
      {"panel":4,"series":"A21 4000 K","wn":14493.268,"flux":0.821},
      {"panel":4,"series":"A21 4000 K","wn":14493.346,"flux":0.779},
      {"panel":4,"series":"A21 4000 K","wn":14493.436,"flux":0.745},
      {"panel":4,"series":"A21 4000 K","wn":14493.526,"flux":0.779},
      {"panel":4,"series":"A21 4000 K","wn":14493.617,"flux":0.847},
      {"panel":4,"series":"A21 4000 K","wn":14493.707,"flux":0.889},
      {"panel":4,"series":"A21 4000 K","wn":14493.797,"flux":0.889},
      {"panel":4,"series":"A21 4000 K","wn":14493.887,"flux":0.872},
      {"panel":4,"series":"A21 4000 K","wn":14493.947,"flux":0.864},
      {"panel":4,"series":"A21 4000 K","wn":14494.008,"flux":0.830},
      {"panel":4,"series":"A21 4000 K","wn":14494.068,"flux":0.711},
      {"panel":4,"series":"A21 4000 K","wn":14494.158,"flux":0.541},
      {"panel":4,"series":"A21 4000 K","wn":14494.218,"flux":0.422},
      {"panel":4,"series":"A21 4000 K","wn":14494.248,"flux":0.388},
      {"panel":4,"series":"A21 4000 K","wn":14494.308,"flux":0.473},
      {"panel":4,"series":"A21 4000 K","wn":14494.368,"flux":0.643},
      {"panel":4,"series":"A21 4000 K","wn":14494.429,"flux":0.779},
      {"panel":4,"series":"A21 4000 K","wn":14494.519,"flux":0.830},
      {"panel":4,"series":"A21 4000 K","wn":14494.609,"flux":0.855},
      {"panel":4,"series":"A21 4000 K","wn":14494.699,"flux":0.881},
      {"panel":4,"series":"A21 4000 K","wn":14494.789,"flux":0.906},
      {"panel":4,"series":"A21 4000 K","wn":14494.850,"flux":0.923},
      {"panel":4,"series":"A21 4000 K","wn":14494.910,"flux":0.906},
      {"panel":4,"series":"A21 4000 K","wn":14495.00,"flux":0.855},

      {"panel":4,"series":"A21 5000 K","wn":14491.00,"flux":1.000},
      {"panel":4,"series":"A21 5000 K","wn":14491.120,"flux":0.997},
      {"panel":4,"series":"A21 5000 K","wn":14491.211,"flux":0.991},
      {"panel":4,"series":"A21 5000 K","wn":14491.301,"flux":0.983},
      {"panel":4,"series":"A21 5000 K","wn":14491.391,"flux":0.991},
      {"panel":4,"series":"A21 5000 K","wn":14491.511,"flux":1.000},
      {"panel":4,"series":"A21 5000 K","wn":14491.602,"flux":1.000},
      {"panel":4,"series":"A21 5000 K","wn":14491.722,"flux":0.986},
      {"panel":4,"series":"A21 5000 K","wn":14491.842,"flux":0.966},
      {"panel":4,"series":"A21 5000 K","wn":14491.962,"flux":0.952},
      {"panel":4,"series":"A21 5000 K","wn":14492.053,"flux":0.957},
      {"panel":4,"series":"A21 5000 K","wn":14492.143,"flux":0.966},
      {"panel":4,"series":"A21 5000 K","wn":14492.203,"flux":0.957},
      {"panel":4,"series":"A21 5000 K","wn":14492.263,"flux":0.881},
      {"panel":4,"series":"A21 5000 K","wn":14492.305,"flux":0.762},
      {"panel":4,"series":"A21 5000 K","wn":14492.341,"flux":0.728},
      {"panel":4,"series":"A21 5000 K","wn":14492.383,"flux":0.762},
      {"panel":4,"series":"A21 5000 K","wn":14492.444,"flux":0.864},
      {"panel":4,"series":"A21 5000 K","wn":14492.504,"flux":0.949},
      {"panel":4,"series":"A21 5000 K","wn":14492.564,"flux":0.991},
      {"panel":4,"series":"A21 5000 K","wn":14492.654,"flux":1.000},
      {"panel":4,"series":"A21 5000 K","wn":14492.835,"flux":0.991},
      {"panel":4,"series":"A21 5000 K","wn":14492.955,"flux":0.974},
      {"panel":4,"series":"A21 5000 K","wn":14493.015,"flux":0.966},
      {"panel":4,"series":"A21 5000 K","wn":14493.105,"flux":0.986},
      {"panel":4,"series":"A21 5000 K","wn":14493.256,"flux":1.000},
      {"panel":4,"series":"A21 5000 K","wn":14493.496,"flux":1.000},
      {"panel":4,"series":"A21 5000 K","wn":14493.737,"flux":0.997},
      {"panel":4,"series":"A21 5000 K","wn":14493.857,"flux":0.983},
      {"panel":4,"series":"A21 5000 K","wn":14493.977,"flux":0.974},
      {"panel":4,"series":"A21 5000 K","wn":14494.098,"flux":0.983},
      {"panel":4,"series":"A21 5000 K","wn":14494.188,"flux":0.983},
      {"panel":4,"series":"A21 5000 K","wn":14494.229,"flux":0.932},
      {"panel":4,"series":"A21 5000 K","wn":14494.265,"flux":0.830},
      {"panel":4,"series":"A21 5000 K","wn":14494.308,"flux":0.779},
      {"panel":4,"series":"A21 5000 K","wn":14494.368,"flux":0.821},
      {"panel":4,"series":"A21 5000 K","wn":14494.429,"flux":0.881},
      {"panel":4,"series":"A21 5000 K","wn":14494.489,"flux":0.949},
      {"panel":4,"series":"A21 5000 K","wn":14494.579,"flux":0.991},
      {"panel":4,"series":"A21 5000 K","wn":14494.699,"flux":1.000},
      {"panel":4,"series":"A21 5000 K","wn":14495.00,"flux":1.000}
    ]
  },
  "vconcat": [
    {
      "width": 951,
      "height": 16,
      "view": {"stroke": null},
      "data": {"name": "header"},
      "layer": [
        {
          "transform": [{"filter": "datum.part === 'journal'"}],
          "mark": {"type": "text", "align": "left", "baseline": "middle", "font": "Liberation Sans", "fontStyle": "italic", "fontSize": 15.8, "color": "#000000"},
          "encoding": {
            "x": {"datum": -45, "type": "quantitative", "scale": {"domain": [0, 951], "nice": false, "zero": false}, "axis": null},
            "text": {"field": "label"}
          }
        },
        {
          "transform": [{"filter": "datum.part === 'issue'"}],
          "mark": {"type": "text", "align": "left", "baseline": "middle", "font": "Liberation Sans", "fontSize": 16.3, "color": "#000000"},
          "encoding": {
            "x": {"datum": 305, "type": "quantitative"},
            "text": {"field": "label"}
          }
        },
        {
          "transform": [{"filter": "datum.part === 'page'"}],
          "mark": {"type": "text", "align": "right", "baseline": "middle", "font": "Liberation Sans", "fontWeight": "bold", "fontSize": 16, "color": "#000000"},
          "encoding": {
            "x": {"datum": 961, "type": "quantitative"},
            "text": {"field": "label"}
          }
        }
      ]
    },
    {
      "bounds": "flush",
      "spacing": 21,
      "title": {"text": "Wavenumber [cm⁻¹]", "orient": "bottom", "anchor": "middle", "fontSize": 16.8, "fontWeight": "normal", "font": "DejaVu Sans", "color": "#000000", "offset": 8},
      "resolve": {"scale": {"color": "shared"}, "legend": {"color": "shared"}},
      "hconcat": [
        {
          "width": 222, "height": 216,
          "encoding": {
            "x": {"field": "wn", "type": "quantitative",
                  "scale": {"domain": [13784, 13788], "nice": false, "zero": false},
                  "axis": {"title": null, "values": [13784, 13785, 13786, 13787, 13788], "format": "d", "labelFontSize": 11, "labelAngle": -45, "labelAlign": "center", "labelBaseline": "middle", "labelPadding": 19, "labelOverlap": false, "labelFlush": false, "labelBound": false}}
          },
          "layer": [
            {
              "data": {"name": "features"},
              "transform": [{"filter": "datum.panel === 1"}],
              "mark": {"type": "rule", "color": "#000000"},
              "encoding": {
                "strokeDash": {"condition": {"test": "datum.species === 'Ti'", "value": [5.5, 2.4]}, "value": [1.2, 2]},
                "strokeWidth": {"condition": {"test": "datum.species === 'Ti'", "value": 1.5}, "value": 1.2}
              }
            },
            {
              "data": {"name": "features"},
              "transform": [{"filter": "datum.panel === 1"}],
              "mark": {"type": "text", "angle": 270, "align": "left", "baseline": "middle", "dx": 3.5, "fontWeight": "bold", "fontSize": 10.5},
              "encoding": {
                "y": {"datum": 1.1, "type": "quantitative"},
                "text": {"field": "species"},
                "color": {"condition": {"test": "datum.species === 'Ti'", "value": "#ff0000"}, "value": "#000000"}
              }
            },
            {
              "data": {"name": "spectra"},
              "transform": [{"filter": "datum.panel === 1"}],
              "mark": {"type": "line", "clip": true},
              "encoding": {
                "y": {"field": "flux", "type": "quantitative", "scale": {"domain": [0, 1.1], "nice": false},
                      "axis": {"title": "Normalized flux", "titleFontSize": 16.8, "titlePadding": 5, "values": [0, 0.2, 0.4, 0.6, 0.8, 1.0], "format": ".1f", "labelPadding": 3.5}},
                "color": {"field": "series", "type": "nominal",
                          "scale": {"domain": ["Observation", "A21 4000 K", "A21 5000 K"], "range": ["#000000", "#0000ff", "#bf00bf"]},
                          "legend": {"title": null, "orient": "none", "direction": "horizontal", "legendX": 267, "legendY": 380}},
                "strokeDash": {"condition": {"test": "datum.series !== 'Observation'", "value": [9.6, 2.4, 1.5, 2.4]}, "value": [1, 0]},
                "strokeWidth": {"condition": {"test": "datum.series !== 'Observation'", "value": 1.5}, "value": 1}
              }
            }
          ]
        },
        {
          "width": 222, "height": 216,
          "encoding": {
            "x": {"field": "wn", "type": "quantitative",
                  "scale": {"domain": [13797, 13801], "nice": false, "zero": false},
                  "axis": {"title": null, "values": [13797, 13798, 13799, 13800, 13801], "format": "d", "labelFontSize": 11, "labelAngle": -45, "labelAlign": "center", "labelBaseline": "middle", "labelPadding": 19, "labelOverlap": false, "labelFlush": false, "labelBound": false}}
          },
          "layer": [
            {
              "data": {"name": "features"},
              "transform": [{"filter": "datum.panel === 2"}],
              "mark": {"type": "rule", "color": "#000000"},
              "encoding": {
                "strokeDash": {"condition": {"test": "datum.species === 'Ti'", "value": [5.5, 2.4]}, "value": [1.2, 2]},
                "strokeWidth": {"condition": {"test": "datum.species === 'Ti'", "value": 1.5}, "value": 1.2}
              }
            },
            {
              "data": {"name": "features"},
              "transform": [{"filter": "datum.panel === 2"}],
              "mark": {"type": "text", "angle": 270, "align": "left", "baseline": "middle", "dx": 3.5, "fontWeight": "bold", "fontSize": 10.5},
              "encoding": {
                "y": {"datum": 1.1, "type": "quantitative"},
                "text": {"field": "species"},
                "color": {"condition": {"test": "datum.species === 'Ti'", "value": "#ff0000"}, "value": "#000000"}
              }
            },
            {
              "data": {"name": "spectra"},
              "transform": [{"filter": "datum.panel === 2"}],
              "mark": {"type": "line", "clip": true},
              "encoding": {
                "y": {"field": "flux", "type": "quantitative", "scale": {"domain": [0, 1.1], "nice": false},
                      "axis": {"title": null, "labels": false, "values": [0, 0.2, 0.4, 0.6, 0.8, 1.0]}},
                "color": {"field": "series", "type": "nominal",
                          "scale": {"domain": ["Observation", "A21 4000 K", "A21 5000 K"], "range": ["#000000", "#0000ff", "#bf00bf"]},
                          "legend": {"title": null, "orient": "none", "direction": "horizontal", "legendX": 267, "legendY": 380}},
                "strokeDash": {"condition": {"test": "datum.series !== 'Observation'", "value": [9.6, 2.4, 1.5, 2.4]}, "value": [1, 0]},
                "strokeWidth": {"condition": {"test": "datum.series !== 'Observation'", "value": 1.5}, "value": 1}
              }
            }
          ]
        },
        {
          "width": 222, "height": 216,
          "encoding": {
            "x": {"field": "wn", "type": "quantitative",
                  "scale": {"domain": [14167, 14171], "nice": false, "zero": false},
                  "axis": {"title": null, "values": [14167, 14168, 14169, 14170, 14171], "format": "d", "labelFontSize": 11, "labelAngle": -45, "labelAlign": "center", "labelBaseline": "middle", "labelPadding": 19, "labelOverlap": false, "labelFlush": false, "labelBound": false}}
          },
          "layer": [
            {
              "data": {"name": "features"},
              "transform": [{"filter": "datum.panel === 3"}],
              "mark": {"type": "rule", "color": "#000000", "strokeDash": [1.2, 2], "strokeWidth": 1.2},
              "encoding": {}
            },
            {
              "data": {"name": "features"},
              "transform": [{"filter": "datum.panel === 3"}],
              "mark": {"type": "text", "angle": 270, "align": "left", "baseline": "middle", "dx": 3.5, "fontWeight": "bold", "fontSize": 10.5, "color": "#000000"},
              "encoding": {
                "y": {"datum": 1.1, "type": "quantitative"},
                "text": {"field": "species"}
              }
            },
            {
              "data": {"name": "spectra"},
              "transform": [{"filter": "datum.panel === 3"}],
              "mark": {"type": "line", "clip": true},
              "encoding": {
                "y": {"field": "flux", "type": "quantitative", "scale": {"domain": [0, 1.1], "nice": false},
                      "axis": {"title": null, "labels": false, "values": [0, 0.2, 0.4, 0.6, 0.8, 1.0]}},
                "color": {"field": "series", "type": "nominal",
                          "scale": {"domain": ["Observation", "A21 4000 K", "A21 5000 K"], "range": ["#000000", "#0000ff", "#bf00bf"]},
                          "legend": {"title": null, "orient": "none", "direction": "horizontal", "legendX": 267, "legendY": 380}},
                "strokeDash": {"condition": {"test": "datum.series !== 'Observation'", "value": [5.5, 2.4]}, "value": [1, 0]},
                "strokeWidth": {"condition": {"test": "datum.series !== 'Observation'", "value": 1.5}, "value": 1}
              }
            }
          ]
        },
        {
          "width": 222, "height": 216,
          "encoding": {
            "x": {"field": "wn", "type": "quantitative",
                  "scale": {"domain": [14491, 14495], "nice": false, "zero": false},
                  "axis": {"title": null, "values": [14491, 14492, 14493, 14494, 14495], "format": "d", "labelFontSize": 11, "labelAngle": -45, "labelAlign": "center", "labelBaseline": "middle", "labelPadding": 19, "labelOverlap": false, "labelFlush": false, "labelBound": false}}
          },
          "layer": [
            {
              "data": {"name": "features"},
              "transform": [{"filter": "datum.panel === 4"}],
              "mark": {"type": "rule", "color": "#000000", "strokeDash": [1.2, 2], "strokeWidth": 1.2},
              "encoding": {}
            },
            {
              "data": {"name": "features"},
              "transform": [{"filter": "datum.panel === 4"}],
              "mark": {"type": "text", "angle": 270, "align": "left", "baseline": "middle", "dx": 3.5, "fontWeight": "bold", "fontSize": 10.5, "color": "#000000"},
              "encoding": {
                "y": {"datum": 1.1, "type": "quantitative"},
                "text": {"field": "species"}
              }
            },
            {
              "data": {"name": "spectra"},
              "transform": [{"filter": "datum.panel === 4"}],
              "mark": {"type": "line", "clip": true},
              "encoding": {
                "y": {"field": "flux", "type": "quantitative", "scale": {"domain": [0, 1.1], "nice": false},
                      "axis": {"title": null, "labels": false, "values": [0, 0.2, 0.4, 0.6, 0.8, 1.0]}},
                "color": {"field": "series", "type": "nominal",
                          "scale": {"domain": ["Observation", "A21 4000 K", "A21 5000 K"], "range": ["#000000", "#0000ff", "#bf00bf"]},
                          "legend": {"title": null, "orient": "none", "direction": "horizontal", "legendX": 267, "legendY": 380}},
                "strokeDash": {"condition": {"test": "datum.series !== 'Observation'", "value": [5.5, 2.4]}, "value": [1, 0]},
                "strokeWidth": {"condition": {"test": "datum.series !== 'Observation'", "value": 1.5}, "value": 1}
              }
            }
          ]
        }
      ]
    }
  ],
  "spacing": 44,
  "resolve": {"scale": {"color": "shared"}, "legend": {"color": "shared"}}
}
